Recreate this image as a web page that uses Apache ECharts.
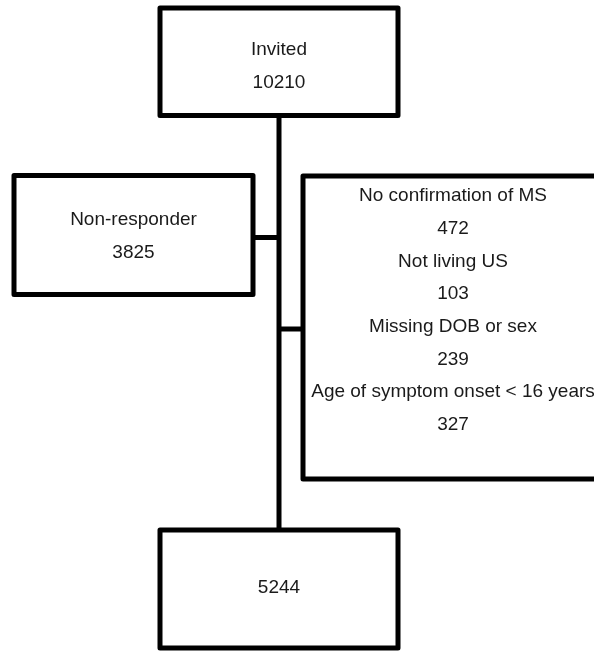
<!DOCTYPE html>
<html>
<head>
<meta charset="utf-8">
<script src="https://cdn.jsdelivr.net/npm/echarts@6/dist/echarts.min.js"></script>
<style>
html,body{margin:0;padding:0;background:#fff;}
#chart{width:594px;height:652px;}
</style>
</head>
<body>
<div id="chart"></div>
<script>
// ---- data ----
const boxLabels = [
  ['Invited'],
  ['Non-responder'],
  ['No confirmation of MS', 'Not living US', 'Missing DOB or sex', 'Age of symptom onset < 16 years'],
  ['']
];
const boxCounts = [
  [10210],
  [3825],
  [472, 103, 239, 327],
  [5244]
];

// ---- layout (positions in diagram units) ----
const boxLayout = [
  { x0: 160, y0: 8,   x1: 398, y1: 115.5, textTop: 50 },
  { x0: 14,  y0: 175.5, x1: 253, y1: 294.5, textTop: 220 },
  { x0: 303, y0: 176, x1: 640, y1: 479, textTop: 196 },
  { x0: 160, y0: 530, x1: 398, y1: 648, textTop: 588 }
];
const connectorLayout = [
  [[279, 115], [279, 530]],
  [[253, 237.5], [279, 237.5]],
  [[279, 329], [303, 329]]
];
const lineGap = 32.7;
const fontCss = '19px "Liberation Sans", Arial, sans-serif';

const chart = echarts.init(document.getElementById('chart'), null, { renderer: 'canvas' });

function boxLines(i) {
  const out = [];
  boxLabels[i].forEach((lab, k) => {
    if (lab !== '') out.push(lab);
    out.push(String(boxCounts[i][k]));
  });
  return out;
}

chart.setOption({
  animation: false,
  backgroundColor: '#fff',
  grid: { left: 0, right: 0, top: 0, bottom: 0 },
  xAxis: { type: 'value', min: 0, max: 594, show: false },
  yAxis: { type: 'value', min: 0, max: 652, inverse: true, show: false },
  series: [
    {
      type: 'custom',
      clip: false,
      data: connectorLayout.map((c, i) => [i]),
      renderItem: function (params, api) {
        const seg = connectorLayout[params.dataIndex];
        const a = api.coord(seg[0]);
        const b = api.coord(seg[1]);
        return {
          type: 'line',
          shape: { x1: a[0], y1: a[1], x2: b[0], y2: b[1] },
          style: { stroke: '#000', lineWidth: 5 }
        };
      }
    },
    {
      type: 'custom',
      clip: false,
      data: boxLayout.map((b, i) => [i]),
      renderItem: function (params, api) {
        const i = params.dataIndex;
        const L = boxLayout[i];
        const p0 = api.coord([L.x0, L.y0]);
        const p1 = api.coord([L.x1, L.y1]);
        const children = [{
          type: 'rect',
          shape: { x: p0[0], y: p0[1], width: p1[0] - p0[0], height: p1[1] - p0[1] },
          style: { fill: '#fff', stroke: '#000', lineWidth: 5, lineJoin: 'round' }
        }];
        const cx = (L.x0 + Math.min(L.x1, 603)) / 2;
        const lines = boxLines(i);
        lines.forEach((t, k) => {
          const p = api.coord([i === 2 ? 453 : cx, L.textTop + k * lineGap]);
          children.push({
            type: 'text',
            style: {
              text: t, x: p[0], y: p[1],
              align: 'center', verticalAlign: 'middle',
              font: fontCss, fill: '#1a1a1a'
            }
          });
        });
        return { type: 'group', children: children };
      }
    }
  ]
});
</script>
</body>
</html>
